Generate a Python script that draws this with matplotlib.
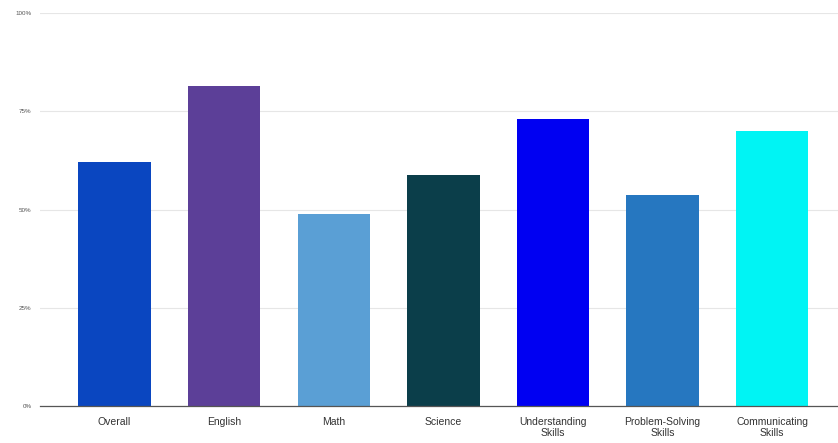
import numpy as np
import matplotlib.pyplot as plt

plt.rcParams["font.family"] = ["Liberation Sans", "DejaVu Sans"]

categories = ["Overall", "English", "Math", "Science", "Understanding\nSkills",
              "Problem-Solving\nSkills", "Communicating\nSkills"]
values = [62.1, 81.4, 48.9, 58.8, 73.0, 53.7, 70.0]
colors = ["#0a46c0", "#5c3f98", "#5a9fd5", "#0b3e4a", "#0000f2", "#2677c0", "#00f4f4"]
yticks = [0, 25, 50, 75, 100]
ytick_labels = ["0%", "25%", "50%", "75%", "100%"]

fig = plt.figure(figsize=(8.38, 4.43), dpi=100)
ax = fig.add_axes([40 / 838, 1 - 406 / 443, 798 / 838, (406 - 13) / 443])

x = np.arange(len(categories))
ax.bar(x, values, width=0.66, color=colors, zorder=2)

ax.set_ylim(0, 100)
ax.set_xlim(-0.68, 6.6)
ax.set_yticks(yticks)
ax.set_yticklabels(ytick_labels, fontsize=4.5, color="#555555")
ax.set_xticks(x)
ax.set_xticklabels(categories, fontsize=7.5, color="#333333", linespacing=1.1)
ax.tick_params(axis="y", length=0, pad=6)
ax.tick_params(axis="x", length=0, pad=8)
ax.grid(axis="y", color="#e6e6e6", lw=0.8, zorder=0)
for s in ["top", "right", "left"]:
    ax.spines[s].set_visible(False)
ax.spines["bottom"].set_color("#555555")
ax.spines["bottom"].set_linewidth(0.9)

plt.savefig("out.png", dpi=100)
